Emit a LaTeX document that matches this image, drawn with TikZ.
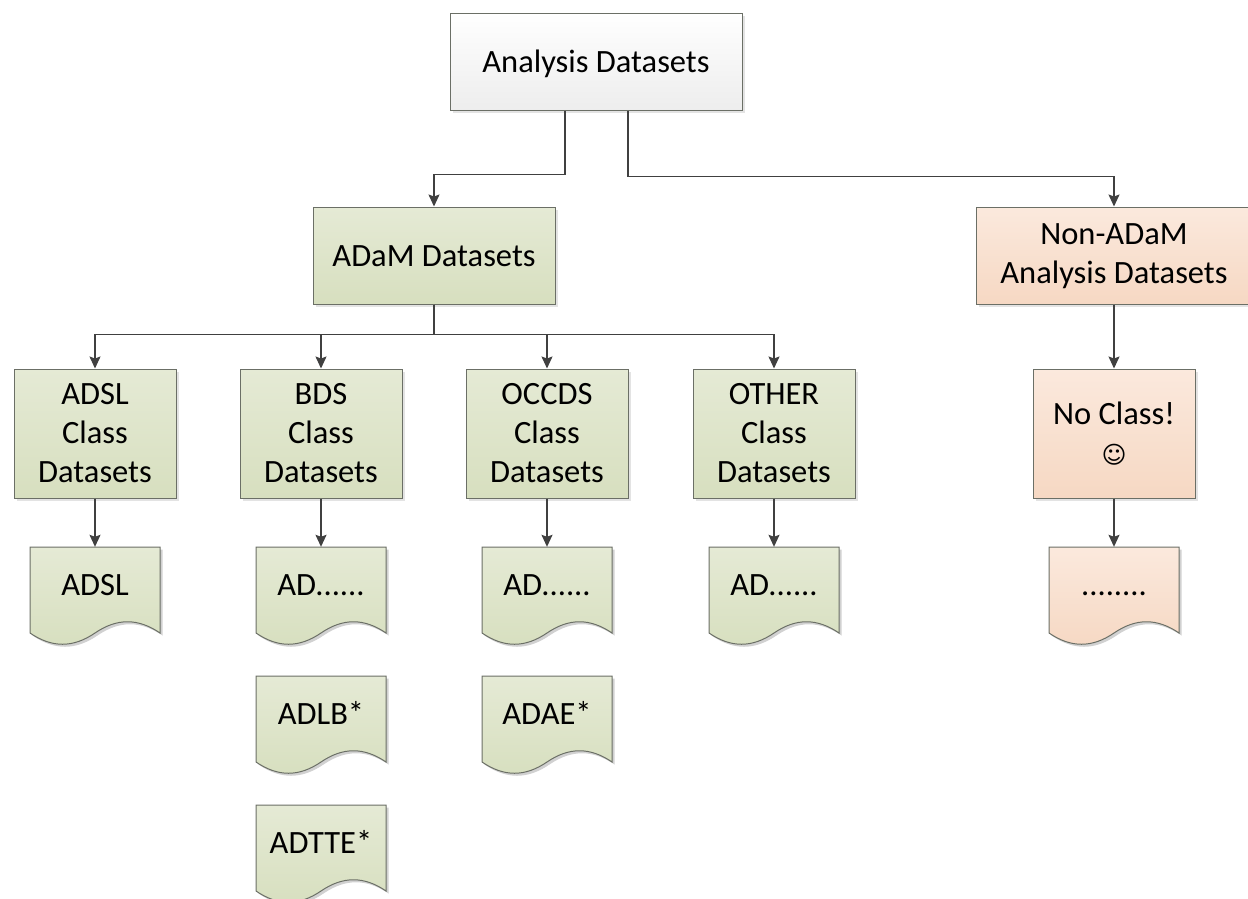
\documentclass[tikz,border=0pt]{standalone}
\usepackage{fontspec}
\setmainfont{Carlito}
\newfontfamily\symfont{DejaVu Sans}
\usetikzlibrary{arrows.meta,shadows,calc}

\definecolor{greentop}{HTML}{E5EAD5}
\definecolor{greenbot}{HTML}{D7DFBF}
\definecolor{peachtop}{HTML}{FBE9DD}
\definecolor{peachbot}{HTML}{F6D8C3}
\definecolor{linegray}{HTML}{404040}
\definecolor{edgegray}{HTML}{6B6F66}

\tikzset{
    boxbase/.style={draw=edgegray, line width=1pt, align=center, text=black, inner sep=0pt,
        font=\fontsize{32.5}{39}\selectfont,
        drop shadow={opacity=.22, shadow xshift=2.5pt, shadow yshift=-2.5pt}},
    greybox/.style={boxbase, top color=white, bottom color=black!7},
    greenbox/.style={boxbase, top color=greentop, bottom color=greenbot},
    peachbox/.style={boxbase, top color=peachtop, bottom color=peachbot},
    oneline/.style={text height=22pt, text depth=1pt},
    classbox/.style={minimum width=162pt, minimum height=129pt},
    docbox/.style={inner sep=0pt, align=center, minimum width=130pt, minimum height=86pt,
        text height=20pt, text depth=10pt, font=\fontsize{32.5}{39}\selectfont},
    conn/.style={-{Stealth[length=12pt,width=11pt,inset=2pt]}, draw=linegray, line width=1.4pt}
}

% document shape with wavy bottom: name, x, y, text, top colour, bottom colour
\newcommand{\docnode}[6]{
    \path[fill=black, opacity=.18, shift={(#2+2.5,#3+2.5)}] (-65,-43) -- (65,-43) -- (65,43)
        .. controls +(-22,-15) and +(22,-15) .. (0,43) .. controls +(-22,15) and +(22,15) .. (-65,43) -- cycle;
    \path[draw=edgegray, line width=1pt, top color=#5, bottom color=#6, shift={(#2,#3)}] (-65,-43) -- (65,-43) -- (65,43)
        .. controls +(-22,-15) and +(22,-15) .. (0,43) .. controls +(-22,15) and +(22,15) .. (-65,43) -- cycle;
    \node[docbox] (#1) at (#2,#3) {#4};
}

\begin{document}
\begin{tikzpicture}[x=1pt, y=-1pt]
    \useasboundingbox (0,0) rectangle (1248,898);

    % top row
    \node[greybox, oneline, minimum width=292pt, minimum height=97pt] (analysis) at (596,61.5) {Analysis Datasets};
    \node[greenbox, oneline, minimum width=242pt, minimum height=97pt] (adam) at (434,255.5) {ADaM Datasets};
    \node[peachbox, text depth=3pt, minimum width=276pt, minimum height=97pt] (nonadam) at (1114,255.5) {Non-ADaM\\Analysis Datasets};

    % class boxes
    \node[greenbox, classbox] (adslclass) at (95,433.5) {ADSL\\Class\\Datasets};
    \node[greenbox, classbox] (bdsclass) at (321,433.5) {BDS\\Class\\Datasets};
    \node[greenbox, classbox] (occdsclass) at (547,433.5) {OCCDS\\Class\\Datasets};
    \node[greenbox, classbox] (otherclass) at (774,433.5) {OTHER\\Class\\Datasets};
    \node[peachbox, classbox] (noclass) at (1114,433.5) {No Class!\\{\symfont\fontsize{24}{39}\selectfont ☺}};

    % documents
    \docnode{adsl}{95}{590}{ADSL}{greentop}{greenbot}
    \docnode{bdsad}{321}{590}{AD......}{greentop}{greenbot}
    \docnode{occdsad}{547}{590}{AD......}{greentop}{greenbot}
    \docnode{otherad}{774}{590}{AD......}{greentop}{greenbot}
    \docnode{nonad}{1114}{590}{........}{peachtop}{peachbot}
    \docnode{adlb}{321}{719}{ADLB*}{greentop}{greenbot}
    \docnode{adae}{547}{719}{ADAE*}{greentop}{greenbot}
    \docnode{adtte}{321}{848}{ADTTE*}{greentop}{greenbot}

    % connectors
    \draw[conn] ([xshift=-31pt]analysis.south) -- ++(0,64) -| (adam.north);
    \draw[conn] ([xshift=32pt]analysis.south) -- ++(0,66) -| (nonadam.north);
    \foreach \cls in {adslclass,bdsclass,occdsclass,otherclass}
        \draw[conn] (adam.south) -- ++(0,30) -| (\cls.north);
    \foreach \from/\to in {adslclass/adsl,bdsclass/bdsad,occdsclass/occdsad,otherclass/otherad,noclass/nonad}
        \draw[conn] (\from.south) -- (\to.north);
    \draw[conn] (nonadam.south) -- (noclass.north);
\end{tikzpicture}
\end{document}
